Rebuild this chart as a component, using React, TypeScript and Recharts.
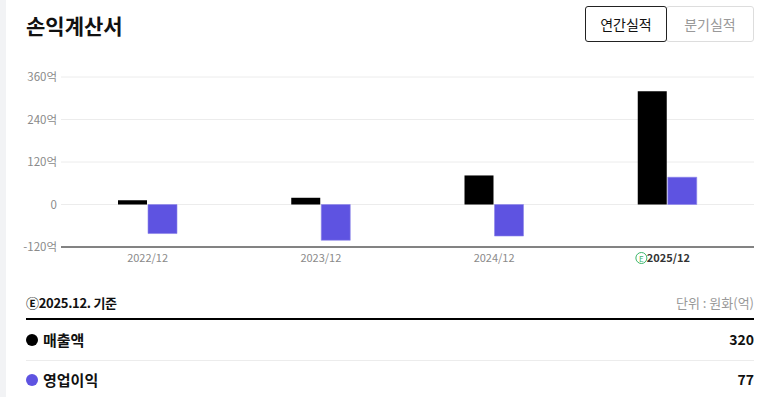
import { Bar, BarChart, CartesianGrid, XAxis, YAxis } from 'recharts';

const periods = ['2022/12', '2023/12', '2024/12', '2025/12'];
const revenue = [12, 19, 82, 320];
const operatingProfit = [-82, -101, -89, 77];
const yTicks = [-120, 0, 120, 240, 360];
const estimatePeriod = '2025/12';

const data = periods.map((period, i) => ({
  period,
  revenue: revenue[i],
  op: operatingProfit[i],
}));

const FONT = '"Noto Sans CJK KR", "Noto Sans", sans-serif';
const PURPLE = '#5e53e1';

const yTickFormat = (v: number) => (v === 0 ? '0' : `${v}억`);

function PeriodTick(props: any) {
  const { x, y, payload } = props;
  const isEstimate = payload.value === estimatePeriod;
  if (!isEstimate) {
    return (
      <text x={x} y={y + 7} textAnchor="middle" fontSize={11} fill="#8a8a8a" fontFamily={FONT}>
        {payload.value}
      </text>
    );
  }
  return (
    <g>
      <circle cx={x - 26} cy={y + 3} r={5.5} fill="none" stroke="#3cb66a" strokeWidth={1} />
      <text x={x - 26} y={y + 6.5} textAnchor="middle" fontSize={8} fill="#3cb66a" fontFamily={FONT}>
        E
      </text>
      <text x={x + 1} y={y + 7} textAnchor="middle" fontSize={11} fontWeight={600} fill="#333" fontFamily={FONT}>
        {payload.value}
      </text>
    </g>
  );
}

export default function App() {
  return (
    <div
      style={{
        position: 'absolute',
        left: 0,
        top: 0,
        width: 764,
        height: 397,
        background: '#fff',
        fontFamily: FONT,
        overflow: 'hidden',
      }}
    >
      <div style={{ position: 'absolute', left: 0, top: 0, width: 6, height: 397, background: '#f2f3f5' }} />
      <div style={{ position: 'absolute', left: 26, top: 10, fontSize: 21, fontWeight: 700, color: '#111' }}>
        손익계산서
      </div>
      <div
        style={{
          position: 'absolute',
          left: 585,
          top: 6,
          width: 82,
          height: 36,
          border: '1px solid #222',
          borderRadius: 3,
          boxSizing: 'border-box',
          fontSize: 14,
          color: '#111',
          display: 'flex',
          alignItems: 'center',
          justifyContent: 'center',
          background: '#fff',
          zIndex: 1,
        }}
      >
        연간실적
      </div>
      <div
        style={{
          position: 'absolute',
          left: 666,
          top: 6,
          width: 88,
          height: 36,
          border: '1px solid #ddd',
          borderRadius: 3,
          boxSizing: 'border-box',
          fontSize: 14,
          color: '#999',
          display: 'flex',
          alignItems: 'center',
          justifyContent: 'center',
        }}
      >
        분기실적
      </div>

      <div style={{ position: 'absolute', left: 0, top: 60 }}>
        <BarChart
          width={754}
          height={215}
          data={data}
          margin={{ top: 17, right: 0, bottom: 0, left: 0 }}
          barSize={29}
          barGap={1}
        >
          <CartesianGrid vertical={false} stroke="#ececec" />
          <XAxis
            dataKey="period"
            axisLine={{ stroke: '#111' }}
            tickLine={false}
            tick={<PeriodTick />}
            height={28}
          />
          <YAxis
            width={61}
            domain={[-120, 360]}
            ticks={yTicks}
            tickFormatter={yTickFormat}
            axisLine={false}
            tickLine={false}
            tickSize={2}
            tick={{ fontSize: 11.5, fill: '#8a8a8a', fontFamily: FONT }}
          />
          <Bar dataKey="revenue" fill="#000" isAnimationActive={false} />
          <Bar dataKey="op" fill={PURPLE} stroke="#8d86ea" strokeWidth={0.6} isAnimationActive={false} />
        </BarChart>
      </div>

      <div
        style={{
          position: 'absolute',
          left: 26,
          top: 293,
          fontSize: 13,
          fontWeight: 700,
          color: '#111',
          letterSpacing: -0.3,
        }}
      >
        Ⓔ2025.12. 기준
      </div>
      <div style={{ position: 'absolute', right: 10, top: 293, fontSize: 13, color: '#999' }}>단위 : 원화(억)</div>
      <div style={{ position: 'absolute', left: 26, top: 318, width: 728, height: 2, background: '#000' }} />

      <div style={{ position: 'absolute', left: 26, top: 329, display: 'flex', alignItems: 'center' }}>
        <span style={{ width: 12, height: 12, borderRadius: 6, background: '#000', marginRight: 5 }} />
        <span style={{ fontSize: 15, fontWeight: 700, color: '#111' }}>매출액</span>
      </div>
      <div style={{ position: 'absolute', right: 10, top: 329, fontSize: 14, fontWeight: 700, color: '#111' }}>
        {revenue[3]}
      </div>
      <div style={{ position: 'absolute', left: 26, top: 360, width: 728, height: 1, background: '#ececec' }} />

      <div style={{ position: 'absolute', left: 26, top: 369, display: 'flex', alignItems: 'center' }}>
        <span style={{ width: 12, height: 12, borderRadius: 6, background: PURPLE, marginRight: 5 }} />
        <span style={{ fontSize: 15, fontWeight: 700, color: '#111' }}>영업이익</span>
      </div>
      <div style={{ position: 'absolute', right: 10, top: 369, fontSize: 14, fontWeight: 700, color: '#111' }}>
        {operatingProfit[3]}
      </div>
    </div>
  );
}
